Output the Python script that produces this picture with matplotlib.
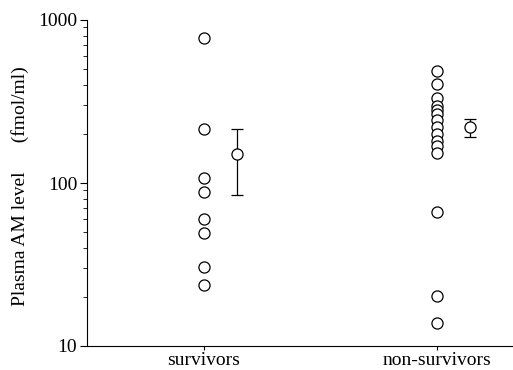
import matplotlib
matplotlib.use("Agg")
import matplotlib.pyplot as plt
import numpy as np

categories = ["survivors", "non-survivors"]
survivors = [776, 214, 107, 88, 60, 49, 30.5, 23.7]
non_survivors = [487, 405, 332, 297, 281, 265, 244, 221, 200, 181, 169, 153, 66.4, 20.3, 13.8]
means = [150, 221]
err_low = [84.4, 191]
err_high = [214, 246]

plt.rcParams['font.family'] = ['Liberation Serif', 'DejaVu Serif']

fig = plt.figure(figsize=(5.13, 3.70), dpi=100)
ax = fig.add_axes([87/513, 24/370, 1 - 87/513, 326/370])

xs = [1, 2]
mean_off = 0.14
for x, vals in zip(xs, [survivors, non_survivors]):
    ax.plot([x]*len(vals), vals, 'o', mfc='white', mec='black', ms=8, mew=0.9, ls='none')

for i, x in enumerate(xs):
    m = means[i]
    ax.errorbar([x + mean_off], [m], yerr=[[m - err_low[i]], [err_high[i] - m]],
                fmt='o', mfc='white', mec='black', ms=8, mew=0.9, ecolor='black',
                elinewidth=0.9, capsize=4, capthick=0.9, zorder=3)

ax.set_yscale('log')
ax.set_ylim(10, 1000)
ax.set_xlim(0.498, 2.326)
ax.set_xticks(xs)
ax.set_xticklabels(categories, fontsize=14)
ax.set_yticks([10, 100, 1000])
ax.set_yticklabels(['10', '100', '1000'], fontsize=14)
ax.tick_params(axis='y', which='major', length=5, width=0.8, pad=2)
ax.tick_params(axis='y', which='minor', length=3, width=0.6)
ax.tick_params(axis='x', length=3, width=0.8, pad=1)
ax.spines['top'].set_visible(False)
ax.spines['right'].set_visible(False)
ax.spines['left'].set_linewidth(0.8)
ax.spines['bottom'].set_linewidth(0.8)
ax.set_ylabel('Plasma AM level      (fmol/ml)', fontsize=14)
ax.yaxis.set_label_coords(-0.135, 0.49)

fig.savefig('out.png', dpi=100)
